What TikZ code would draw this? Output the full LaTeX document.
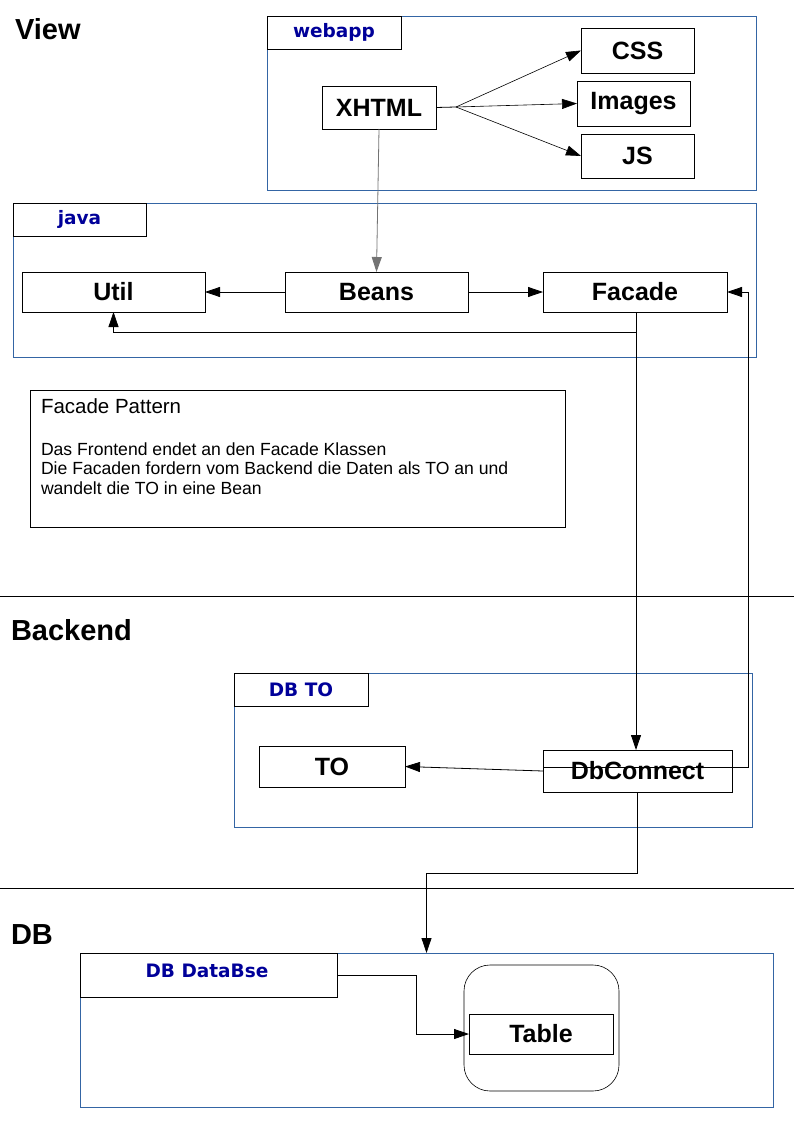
\documentclass[tikz,border=0pt]{standalone}
\usepackage{fontspec}
\setmainfont{Liberation Sans}
\newfontfamily\djfont{DejaVu Sans}
\usetikzlibrary{arrows.meta}
\definecolor{frameblue}{RGB}{52,101,164}
\definecolor{lblblue}{RGB}{0,0,153}
\begin{document}
\begin{tikzpicture}[x=1pt,y=-1pt,
  every node/.style={inner sep=0pt,outer sep=0pt},
  grp/.style={draw=frameblue,line width=0.8pt,rectangle},
  lbl/.style={draw=black,line width=0.8pt,rectangle,text=lblblue,font=\djfont\bfseries\fontsize{18.5}{21}\selectfont},
  box/.style={draw=black,line width=0.8pt,rectangle,font=\bfseries\fontsize{25}{30}\selectfont},
  head/.style={anchor=base west,font=\bfseries\fontsize{29}{34}\selectfont},
  arr/.style={line width=0.8pt,-{Triangle[length=15pt,width=10pt]}},
  ln/.style={line width=0.8pt}]
\useasboundingbox (0,0) rectangle (794,1123);

% headings
\node[head] (hView) at (15,40) {View};
\node[head] (hBackend) at (11,640) {Backend};
\node[head] (hDB) at (11,944) {DB};

% separators
\coordinate (s1l) at (0,596); \coordinate (s1r) at (794,596);
\coordinate (s2l) at (0,888); \coordinate (s2r) at (794,888);
\draw[ln] (s1l) -- (s1r);
\draw[ln] (s2l) -- (s2r);

% webapp group
\node[grp,minimum width=489,minimum height=174] (webapp) at (511.5,103) {};
\node[lbl,minimum width=134,minimum height=33] (webappLbl) at (334,32.5) {webapp};
\node[box,minimum width=114,minimum height=43] (XHTML) at (379,107.5) {XHTML};
\node[box,minimum width=113,minimum height=45] (CSS) at (637.5,50.5) {CSS};
\node[box,minimum width=113,minimum height=45] (Images) at (633.5,103.5) {Images};
\node[box,minimum width=113,minimum height=44] (JS) at (637.5,156) {JS};

% java group
\node[grp,minimum width=743,minimum height=154] (java) at (384.5,280) {};
\node[lbl,minimum width=133,minimum height=33] (javaLbl) at (79.5,219.5) {java};
\node[box,minimum width=183,minimum height=40] (Util) at (113.5,292) {Util};
\node[box,minimum width=183,minimum height=40] (Beans) at (376.5,292) {Beans};
\node[box,minimum width=184,minimum height=40] (Facade) at (635,292) {Facade};

% note
\node[draw=black,line width=0.8pt,minimum width=535,minimum height=137] (note) at (297.5,458.5) {};
\node[anchor=base west,font=\fontsize{20.5}{24}\selectfont] (noteTitle) at (41,413) {Facade Pattern};
\node[anchor=base west,align=left,font=\fontsize{17.6}{19.5}\selectfont] (noteBody) at (41,494) {Das Frontend endet an den Facade Klassen\\Die Facaden fordern vom Backend die Daten als TO an und\\wandelt die TO in eine Bean};

% DB TO group
\node[grp,minimum width=518,minimum height=154] (DBTO) at (493,750) {};
\node[lbl,minimum width=134,minimum height=33] (DBTOLbl) at (301,689.5) {DB TO};
\node[box,minimum width=146,minimum height=41] (TO) at (332,766.5) {TO};
\node[box,minimum width=189,minimum height=42] (DbConnect) at (637.5,771) {DbConnect};

% DB group
\node[grp,minimum width=693,minimum height=154] (DB) at (426.5,1030) {};
\node[draw=black,line width=0.8pt,minimum width=257,minimum height=44] (DBLbl) at (208.5,975) {};
\node[anchor=base,text=lblblue,font=\djfont\bfseries\fontsize{18.5}{21}\selectfont] (DBLblText) at (207,977) {DB DataBse};
\node[draw=black,line width=0.6pt,rounded corners=26pt,minimum width=155,minimum height=126] (Store) at (541.5,1028) {};
\node[box,minimum width=144,minimum height=40] (Table) at (541,1034) {Table};

% connectors
\coordinate (fan) at (456,107);
\draw[ln] (XHTML.east) -- (fan);
\draw[arr,line width=0.6pt] (fan) -- (CSS.west);
\draw[arr,line width=0.6pt] (fan) -- (Images.west);
\draw[arr,line width=0.6pt] (fan) -- (JS.west);
\draw[arr,draw=black!55] (XHTML.south) -- (Beans.north);
\draw[arr] (Beans.west) -- (Util.east);
\draw[arr] (Beans.east) -- (Facade.west);
\draw[arr] ([xshift=1pt]Facade.south) -- ++(0,20) -| (Util.south);
\draw[arr] ([xshift=1pt]Facade.south) -- ([xshift=1pt]Facade.south |- DbConnect.north);
\coordinate (rc) at (748,0);
\draw[arr] ([yshift=4pt]DbConnect.west) -| (rc |- Facade.east) -- (Facade.east);
\draw[arr] (DbConnect.west) -- (TO.east);
\draw[arr] (DbConnect.south) -- ++(0,81) -| (DB.north);
\draw[arr] (DBLbl.east) -- ++(79,0) |- (Table.west);
\end{tikzpicture}
\end{document}
